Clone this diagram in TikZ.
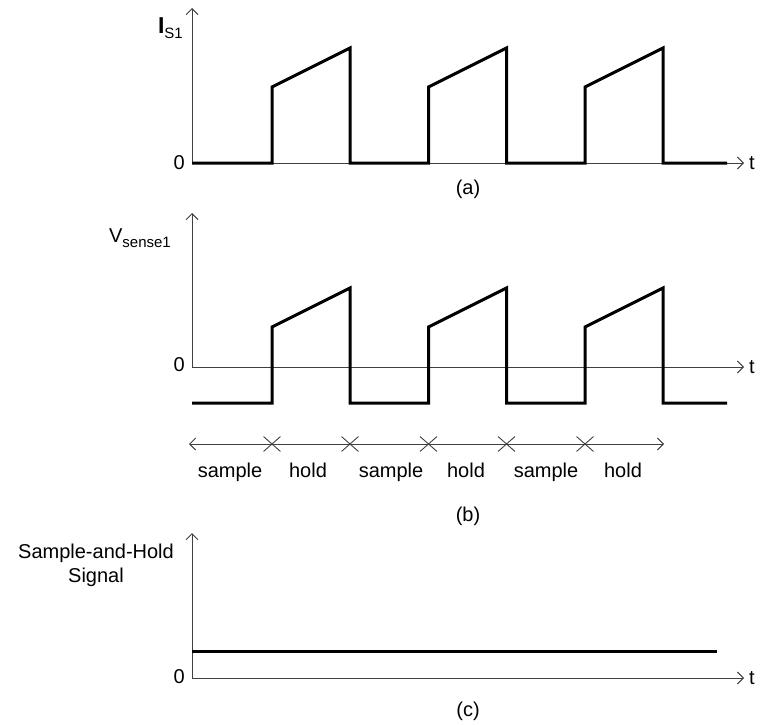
\documentclass[tikz,border=0pt]{standalone}
\usepackage{fontspec}
\setmainfont{Liberation Sans}
\usetikzlibrary{arrows.meta,positioning,shapes.misc}
\newcommand{\lowidx}[1]{\raisebox{-0.28em}{\fontsize{15}{17}\selectfont #1}}

\begin{document}
\begin{tikzpicture}[x=1pt,y=-1pt,
    axis/.style={line width=0.9pt, black!75, -{Straight Barb[length=6pt,width=12pt]}},
    wave/.style={line width=3pt, line join=miter},
    lbl/.style={font=\fontsize{20}{24}\selectfont, inner sep=1pt},
    xmark/.style={cross out, draw, black!75, line width=0.9pt, minimum width=16pt, minimum height=14pt, inner sep=0pt}]
  \useasboundingbox (0,0) rectangle (764,725);

  % Define axes
  \coordinate (Oa) at (192,163);
  \coordinate (Ya) at (192,8);
  \coordinate (Xa) at (744,163);
  \coordinate (Ob) at (192,367);
  \coordinate (Yb) at (192,213);
  \coordinate (Xb) at (744,367);
  \coordinate (Oc) at (192,678);
  \coordinate (Yc) at (192,533);
  \coordinate (Xc) at (744,678);
  \draw[axis] (Oa) -- (Ya);
  \draw[axis] (Oa) -- (Xa);
  \draw[axis] (Ob) -- (Yb);
  \draw[axis] (Ob) -- (Xb);
  \draw[axis] (Oc) -- (Yc);
  \draw[axis] (Oc) -- (Xc);

  % Axis labels
  \node[lbl, anchor=east] (ia) at (184,28) {{\fontsize{23}{26}\selectfont\textbf{I}}\lowidx{S1}};
  \node[lbl, anchor=east] (za) at (186,163) {0};
  \node[lbl, anchor=west] (ta) at (748,163) {t};
  \node[lbl, anchor=east] (vb) at (172,238) {V\lowidx{sense1}};
  \node[lbl, anchor=east] (zb) at (186,365) {0};
  \node[lbl, anchor=west] (tb) at (748,367) {t};
  \node[lbl, align=center] (sc) at (96,565) {Sample-and-Hold\\Signal};
  \node[lbl, anchor=east] (zc) at (186,677) {0};
  \node[lbl, anchor=west] (tc) at (748,678) {t};

  % Waveforms
  \draw[wave] (Oa) \foreach \s in {272,428.5,585} { -- (\s,163) -- (\s,87) -- (\s+78,48) -- (\s+78,163) } -- (727,163);
  \coordinate (Lb) at (192,403);
  \draw[wave] (Lb) \foreach \s in {272,428.5,585} { -- (\s,403) -- (\s,327) -- (\s+78,288) -- (\s+78,403) } -- (727,403);
  \coordinate (Lc) at (192,651);
  \coordinate (Rc) at (717,651);
  \draw[wave] (Lc) -- (Rc);

  % Sample and hold intervals
  \coordinate (sL) at (189,444);
  \coordinate (sR) at (664,444);
  \draw[line width=0.9pt, black!75, {Straight Barb[length=6pt,width=12pt]}-{Straight Barb[length=6pt,width=12pt]}] (sL) -- (sR);
  \foreach \x [count=\i] in {272,350,428.5,506.5,585}
    \node[xmark] (m\i) at (\x,444) {};
  \foreach \x/\w [count=\i] in {230/sample,308/hold,391/sample,466/hold,546/sample,623/hold}
    \node[lbl, anchor=base] (p\i) at (\x,477) {\w};

  % Captions
  \node[lbl] (capa) at (468,189) {(a)};
  \node[lbl] (capb) at (468,516) {(b)};
  \node[lbl] (capc) at (468,711) {(c)};
\end{tikzpicture}
\end{document}
